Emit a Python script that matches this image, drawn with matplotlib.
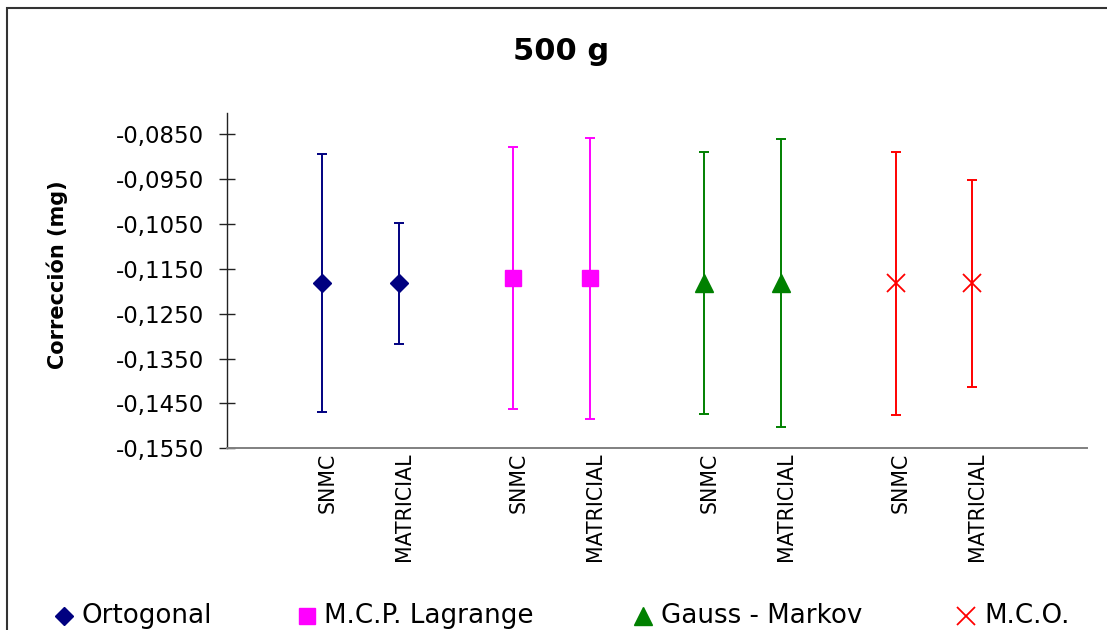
import numpy as np
import matplotlib
matplotlib.use("Agg")
import matplotlib.pyplot as plt
import matplotlib.transforms as mtransforms
from matplotlib.lines import Line2D
from matplotlib.patches import Rectangle
from matplotlib.ticker import FuncFormatter, FixedLocator

# =========================
# Data
# =========================
methods = ["Ortogonal", "M.C.P. Lagrange", "Gauss - Markov", "M.C.O."]
cases = ["SNMC", "MATRICIAL"]

# centre value of each point, per method: [SNMC, MATRICIAL]
centre = {
    "Ortogonal":       [-0.1182, -0.1182],
    "M.C.P. Lagrange": [-0.1171, -0.1171],
    "Gauss - Markov":  [-0.1182, -0.1182],
    "M.C.O.":          [-0.1182, -0.1182],
}
# half-width of the error bars
half_err = {
    "Ortogonal":       [0.0287, 0.0135],
    "M.C.P. Lagrange": [0.0292, 0.0313],
    "Gauss - Markov":  [0.0292, 0.0321],
    "M.C.O.":          [0.0293, 0.0231],
}

colors = ["#000080", "#FF00FF", "#008000", "#FF0000"]
markers = ["D", "s", "^", "x"]
msizes = [9, 12, 13, 12.5]

y_ticks = [-0.0850, -0.0950, -0.1050, -0.1150, -0.1250, -0.1350, -0.1450, -0.1550]

# =========================
# Figure
# =========================
W, H = 1107, 630
fig = plt.figure(figsize=(W / 100, H / 100), dpi=100)
ax = fig.add_axes([226.7 / W, 1 - 448.3 / H, 860 / W, (448.3 - 112.7) / H])

# outer frame of the chart area
fig.add_artist(Rectangle((7 / W, -0.1), 1.2, 1 - 8 / H + 0.1,
                         transform=fig.transFigure, fill=False,
                         edgecolor="#333333", linewidth=1.5))

tick_pos = []
tick_lab = []
for g, m in enumerate(methods):
    xs = [g * 5 + 2.5, g * 5 + 4.5]
    tick_pos += xs
    tick_lab += cases
    mew = 1.3 if markers[g] == "x" else 1
    ax.errorbar(xs, centre[m], yerr=half_err[m], fmt="none",
                ecolor=colors[g], elinewidth=1.4, capsize=3.9, capthick=1.4,
                zorder=2)
    ax.plot(xs, centre[m], linestyle="none", marker=markers[g],
            markersize=msizes[g], color=colors[g], markeredgewidth=mew,
            zorder=3)

ax.set_xlim(0, 22.5)
ax.set_ylim(-0.155, -0.0802)

# =========================
# Axes style
# =========================
for s in ["top", "right"]:
    ax.spines[s].set_visible(False)
ax.spines["left"].set_color("#222222")
ax.spines["left"].set_linewidth(1.0)
ax.spines["bottom"].set_color("#808080")
ax.spines["bottom"].set_linewidth(1.4)

ax.yaxis.set_major_locator(FixedLocator(y_ticks))
ax.yaxis.set_major_formatter(FuncFormatter(lambda v, p: f"{v:.4f}".replace(".", ",")))
ax.tick_params(axis="y", direction="inout", length=12, width=1.0,
               color="#222222", pad=10, labelsize=16.5)

ax.set_xticks(tick_pos)
ax.set_xticklabels(tick_lab, rotation=90, va="top", ha="center", fontsize=14.8)
ax.tick_params(axis="x", length=0, pad=3)
offset = mtransforms.ScaledTranslation(5 / 100, 0, fig.dpi_scale_trans)
for lab in ax.get_xticklabels():
    lab.set_transform(lab.get_transform() + offset)

# title and y label
fig.text(561 / W, 1 - 60 / H, "500 g", ha="center", va="baseline",
         fontsize=22, fontweight="bold")
fig.text(57 / W, 1 - 275 / H, "Corrección (mg)", rotation=90,
         ha="center", va="center", fontsize=15, fontweight="bold")

# =========================
# Legend (placed along the bottom)
# =========================
leg_x = [63.8, 306.5, 643, 966]
leg_y = 1 - 616 / H
for g, m in enumerate(methods):
    mew = 1.3 if markers[g] == "x" else 1
    fig.add_artist(Line2D([leg_x[g] / W], [leg_y], transform=fig.transFigure,
                          marker=markers[g], markersize=msizes[g], color=colors[g],
                          markeredgewidth=mew, linestyle="none"))
    fig.text((leg_x[g] + 18) / W, leg_y, m, ha="left", va="center",
             fontsize=18.8)

fig.savefig("out.png", dpi=100)
